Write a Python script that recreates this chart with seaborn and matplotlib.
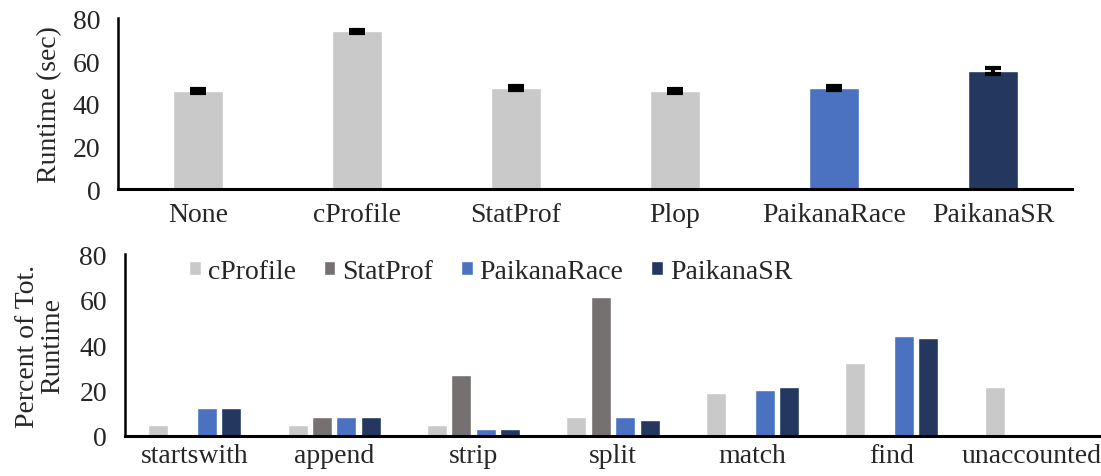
import pandas as pd
import numpy as np
import matplotlib
matplotlib.use("Agg")
import matplotlib.pyplot as plt
import seaborn as sns

# Top panel: total runtime per profiler
tools = ["None", "cProfile", "StatProf", "Plop", "PaikanaRace", "PaikanaSR"]
runtime = [46.0, 73.9, 47.3, 45.9, 47.3, 55.3]
runtime_err = [0.8, 0.8, 0.8, 0.8, 0.8, 1.3]
tool_colors = ["#C9C9C9", "#C9C9C9", "#C9C9C9", "#C9C9C9", "#4A72C0", "#24375F"]

# Bottom panel: share of total runtime per function
funcs = ["startswith", "append", "strip", "split", "match", "find", "unaccounted"]
profilers = ["cProfile", "StatProf", "PaikanaRace", "PaikanaSR"]
pct_cprofile = [4.7, 4.7, 4.7, 8.4, 19.1, 32.2, 21.6]
pct_statprof = [0, 8.5, 26.9, 61.2, 0, 0, 0]
pct_race = [12.5, 8.5, 3.2, 8.4, 20.3, 44.1, 0]
pct_sr = [12.5, 8.5, 3.2, 7.2, 21.6, 42.9, 0]
prof_colors = ["#C9C9C9", "#767171", "#4A72C0", "#24375F"]

FS = 20

sns.set_style("white")
plt.rcParams["font.family"] = ["Liberation Serif", "DejaVu Serif"]
plt.rcParams["font.size"] = FS

fig = plt.figure(figsize=(11.01, 4.77), dpi=100)
ax1 = fig.add_axes([0.1076, 0.6015, 0.8665, 0.3580])
ax2 = fig.add_axes([0.1135, 0.0840, 0.8865, 0.3810])

# --- top panel ---
df_top = pd.DataFrame({"tool": tools, "runtime": runtime})
sns.barplot(data=df_top, x="tool", y="runtime", hue="tool", palette=tool_colors,
            width=0.31, legend=False, ax=ax1, saturation=1)
ax1.errorbar(x=np.arange(len(tools)), y=runtime, yerr=runtime_err, fmt="none",
             ecolor="black", elinewidth=3, capsize=6, capthick=3)
ax1.set_ylim(0, 80)
ax1.set_yticks([0, 20, 40, 60, 80])
ax1.set_xlabel("")
ax1.set_ylabel("Runtime (sec)", fontsize=FS, labelpad=8)

# --- bottom panel ---
df_bot = pd.DataFrame({
    "func": funcs * 4,
    "profiler": np.repeat(profilers, len(funcs)),
    "pct": pct_cprofile + pct_statprof + pct_race + pct_sr,
})
sns.barplot(data=df_bot, x="func", y="pct", hue="profiler", palette=prof_colors,
            width=0.70, gap=0.18, ax=ax2, saturation=1)
ax2.set_ylim(0, 80)
ax2.set_yticks([0, 20, 40, 60, 80])
ax2.set_xlabel("")
ax2.set_ylabel("Percent of Tot.\nRuntime", fontsize=FS, labelpad=10, linespacing=1.0)
ax2.legend(loc="center left", bbox_to_anchor=(0.066, 0.906), ncol=4, frameon=False,
           fontsize=FS, handlelength=0.42, handleheight=0.42, handletextpad=0.25,
           columnspacing=1.0, borderpad=0, borderaxespad=0)

for ax in (ax1, ax2):
    sns.despine(ax=ax)
    ax.spines["left"].set_linewidth(1.8)
    ax.spines["bottom"].set_linewidth(2.2)
    ax.spines["left"].set_color("black")
    ax.spines["bottom"].set_color("black")
    ax.tick_params(axis="y", direction="in", length=4, width=1.5, pad=13, labelsize=FS)
    ax.tick_params(axis="x", length=0, pad=9, labelsize=FS)

ax1.set_xlim(-0.5, len(tools) - 0.5)
ax2.set_xlim(-0.5, len(funcs) - 0.5)
ax2.tick_params(axis="x", pad=5)

fig.savefig("out.png", dpi=100)
